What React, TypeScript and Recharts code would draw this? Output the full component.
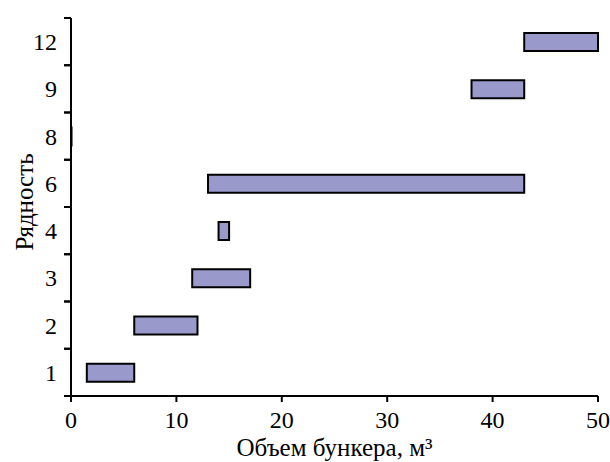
import React from "react";
import { BarChart, Bar, XAxis, YAxis, Label } from "recharts";

// rows (рядность), bottom to top
const rows = ["1", "2", "3", "4", "6", "8", "9", "12"];
// bunker volume range per row, m3
const startVol = [1.5, 6, 11.5, 14, 13, 0, 38, 43];
const endVol = [6, 12, 17, 15, 43, 0.05, 43, 50];
const xTicks = [0, 10, 20, 30, 40, 50];

const data = rows.map((r, i) => ({ name: r, range: [startVol[i], endVol[i]] }));

const FONT = "'Liberation Serif', 'Times New Roman', serif";
const TICK_SIZE = 7;
const TICK_MARGIN = 6;

// labels sit in the middle of a row, tick marks on the row boundaries
const RowTick = (props: any) => {
  const { x, y, payload } = props;
  const half = payload.offset ?? 378 / 16;
  const ax = x + TICK_SIZE + TICK_MARGIN;
  return (
    <g>
      <line x1={ax - TICK_SIZE} x2={ax} y1={y - half} y2={y - half} stroke="#000" strokeWidth={2} />
      <line x1={ax - TICK_SIZE} x2={ax} y1={y + half} y2={y + half} stroke="#000" strokeWidth={2} />
      <text x={x - 1} y={y} dy="0.35em" textAnchor="end" fill="#000" fontSize={24} fontFamily={FONT}>
        {payload.value}
      </text>
    </g>
  );
};

const YTitle = (props: any) => {
  const { x, y, height } = props.viewBox;
  const bx = x + 25;
  const cy = y + height / 2 - 5;
  return (
    <text
      x={bx}
      y={cy}
      transform={`rotate(-90, ${bx}, ${cy})`}
      textAnchor="middle"
      fill="#000"
      fontSize={25}
      fontFamily={FONT}
    >
      Рядность
    </text>
  );
};

const App = () => {
  return (
    <div style={{ width: 602, height: 454, padding: "8px 0 0 8px", background: "#fff" }}>
      {/* the chart fills the whole window, so the body margin goes into the padding */}
      <style>{"body { margin: 0; overflow: hidden; }"}</style>
      <BarChart
        width={602}
        height={454}
        data={data}
        layout="vertical"
        margin={{ top: 10, right: 12, bottom: 6, left: 0 }}
        barSize={18}
      >
        <XAxis
          type="number"
          domain={[0, 50]}
          ticks={xTicks}
          height={60}
          axisLine={{ stroke: "#000", strokeWidth: 2 }}
          tickLine={{ stroke: "#000", strokeWidth: 2 }}
          tickSize={6}
          tickMargin={9}
          tick={{ fill: "#000", fontSize: 24, fontFamily: FONT }}
        >
          <Label
            value="Объем бункера, м³"
            position="insideBottom"
            offset={0}
            fill="#000"
            fontSize={25}
            fontFamily={FONT}
          />
        </XAxis>
        <YAxis
          type="category"
          dataKey="name"
          reversed
          width={63}
          axisLine={{ stroke: "#000", strokeWidth: 2 }}
          tickLine={false}
          tickSize={TICK_SIZE}
          tickMargin={TICK_MARGIN}
          tick={<RowTick />}
          interval={0}
        >
          <Label content={<YTitle />} />
        </YAxis>
        <Bar
          dataKey="range"
          fill="#9999CC"
          stroke="#000"
          strokeWidth={2}
          isAnimationActive={false}
        />
      </BarChart>
    </div>
  );
};

export default App;
